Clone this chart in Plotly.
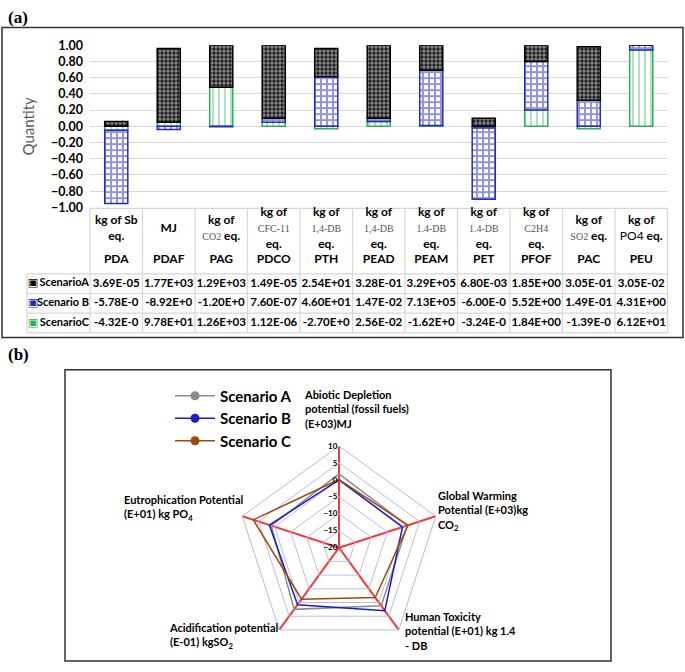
import plotly.graph_objects as go

# categories (impact codes) and units for the table header
codes = ["PDA", "PDAF", "PAG", "PDCO", "PTH", "PEAD", "PEAM", "PET", "PFOF", "PAC", "PEU"]
SMALL = "<span style='font-family:Liberation Serif;font-weight:normal;font-size:10px;color:#555'>%s</span>"
units = ["kg of Sb<br>eq.",
         "MJ",
         "kg of<br>" + SMALL % "CO2" + " eq.",
         "kg of<br>" + SMALL % "CFC-11" + "<br>eq.",
         "kg of<br>" + SMALL % "1,4-DB" + "<br>eq.",
         "kg of<br>" + SMALL % "1,4-DB" + "<br>eq.",
         "kg of<br>" + SMALL % "1.4-DB" + "<br>eq.",
         "kg of<br>" + SMALL % "1.4-DB" + "<br>eq.",
         "kg of<br>" + SMALL % "C2H4" + "<br>eq.",
         "kg of<br>" + SMALL % "SO2" + " eq.",
         "kg of<br><span style='font-weight:normal'>PO4</span> eq."]

# normalised shares shown as stacked bars
share_a = [0.06, 0.91, 0.52, 0.90, 0.35, 0.90, 0.31, 0.10, 0.20, 0.66, 0.0]
share_b = [-0.90, -0.04, -0.005, 0.05, 0.61, 0.04, 0.68, -0.88, 0.60, 0.32, 0.06]
share_c = [-0.05, 0.05, 0.48, 0.05, -0.03, 0.06, 0.01, -0.02, 0.20, -0.03, 0.94]

# table values
scenarios = ["ScenarioA", "Scenario B", "ScenarioC"]
tab_a = ["3.69E-05", "1.77E+03", "1.29E+03", "1.49E-05", "2.54E+01", "3.28E-01", "3.29E+05", "6.80E-03", "1.85E+00", "3.05E-01", "3.05E-02"]
tab_b = ["-5.78E-0", "-8.92E+0", "-1.20E+0", "7.60E-07", "4.60E+01", "1.47E-02", "7.13E+05", "-6.00E-0", "5.52E+00", "1.49E-01", "4.31E+00"]
tab_c = ["-4.32E-0", "9.78E+01", "1.26E+03", "1.12E-06", "-2.70E+0", "2.56E-02", "-1.62E+0", "-3.24E-0", "1.84E+00", "-1.39E-0", "6.12E+01"]

# radar data
radar_axes = ["Abiotic Depletion", "Global Warming", "Human Toxicity", "Acidification", "Eutrophication"]
radar_a = [1.8, 1.2, 1.2, 2.5, 1.0]
radar_b = [0.0, -0.3, 3.0, 0.8, 1.6]
radar_c = [0.1, 1.4, -1.8, -1.2, 6.6]
radar_ticks = [-20, -15, -10, -5, 0, 5, 10]

W, H = 685, 672
def fx(p):
    return p / W
def fy(p):
    return 1 - p / H

FONT = "Lato"
GREEN, BLUE = "#2bb05a", "#2a2ab8"
GRIDC = "#d6d6d6"
fig = go.Figure()

# stacked bars (C at the bottom, then B, then A)
bar_w = 0.44
fig.add_trace(go.Bar(x=codes, y=share_c, width=bar_w, showlegend=False, hoverinfo="skip",
                     marker=dict(color="white", line=dict(color=GREEN, width=1.5),
                                 pattern=dict(shape="|", fgcolor=GREEN, bgcolor="white", size=6, solidity=0.25))))
fig.add_trace(go.Bar(x=codes, y=share_b, width=bar_w, showlegend=False, hoverinfo="skip",
                     marker=dict(color="white", line=dict(color=BLUE, width=1.5),
                                 pattern=dict(shape="+", fgcolor=BLUE, bgcolor="white", size=6, solidity=0.55))))
fig.add_trace(go.Bar(x=codes, y=share_a, width=bar_w, showlegend=False, hoverinfo="skip",
                     marker=dict(color="black", line=dict(color="black", width=1.5),
                                 pattern=dict(shape=".", fgcolor="white", bgcolor="#111", size=4, solidity=0.6))))

# ---- table drawn in its own pixel-like axes (x2 / y2) ----
col_w = [63] + [52.5] * 11
row_h = [67, 20, 20, 20]
xb = [0]
for w in col_w:
    xb.append(xb[-1] + w)
yb = [0]
for h in row_h:
    yb.append(yb[-1] + h)
xc = [(xb[i] + xb[i + 1]) / 2 for i in range(len(col_w))]
yc = [(yb[i] + yb[i + 1]) / 2 for i in range(len(row_h))]

# borders
lx, ly = [], []
for i, x in enumerate(xb):
    lx += [x, x, None]
    ly += [yb[1] if i == 0 else yb[0], yb[-1], None]
for j, y in enumerate(yb):
    lx += [xb[1] if j == 0 else xb[0], xb[-1], None]
    ly += [y, y, None]
fig.add_trace(go.Scatter(x=lx, y=ly, mode="lines", line=dict(color=GRIDC, width=1.2),
                         xaxis="x2", yaxis="y2", showlegend=False, hoverinfo="skip"))

# header: unit lines and impact codes
fig.add_trace(go.Scatter(x=xc[1:], y=[yb[0] + 21] * 11, mode="text",
                         text=["<b>" + u + "</b>" for u in units],
                         textfont=dict(family=FONT, size=12, color="black"),
                         xaxis="x2", yaxis="y2", showlegend=False, hoverinfo="skip"))
fig.add_trace(go.Scatter(x=xc[1:], y=[yb[0] + 53] * 11, mode="text",
                         text=["<b>" + c + "</b>" for c in codes],
                         textfont=dict(family=FONT, size=12, color="black"),
                         xaxis="x2", yaxis="y2", showlegend=False, hoverinfo="skip"))

# data rows
for r, vals in enumerate([tab_a, tab_b, tab_c]):
    fig.add_trace(go.Scatter(x=xc[1:], y=[yc[r + 1]] * 11, mode="text",
                             text=["<b>" + v + "</b>" for v in vals],
                             textfont=dict(family=FONT, size=11.5, color="black"),
                             xaxis="x2", yaxis="y2", showlegend=False, hoverinfo="skip"))
# row labels with legend icons
fig.add_trace(go.Scatter(x=[xb[1] - 1] * 3, y=yc[1:], mode="text", textposition="middle left",
                         text=["<b>" + s + "</b>" for s in scenarios],
                         textfont=dict(family=FONT, size=11, color="black"),
                         xaxis="x2", yaxis="y2", showlegend=False, hoverinfo="skip"))
fig.add_trace(go.Scatter(x=[6] * 3, y=yc[1:], mode="text", text=["▣"] * 3,
                         textfont=dict(family="DejaVu Sans", size=11, color=["black", BLUE, GREEN]),
                         xaxis="x2", yaxis="y2", showlegend=False, hoverinfo="skip"))

# radar traces
for name, vals, col in [("Scenario A", radar_a, "#8c8c8c"),
                        ("Scenario B", radar_b, "#1c1cc8"),
                        ("Scenario C", radar_c, "#9c4a0c")]:
    fig.add_trace(go.Scatterpolar(r=vals + vals[:1], theta=radar_axes + radar_axes[:1],
                                  mode="lines+markers", name=name,
                                  line=dict(color=col, width=1.5),
                                  marker=dict(color=col, size=9)))

tab_left, tab_top = 27, 205
fig.update_layout(
    width=W, height=H, margin=dict(l=0, r=0, t=0, b=0),
    paper_bgcolor="white", plot_bgcolor="rgba(0,0,0,0)",
    barmode="relative", bargap=0.56,
    font=dict(family=FONT, color="black"),
    xaxis=dict(domain=[fx(tab_left + xb[1]), fx(tab_left + xb[-1])], range=[-0.5, 10.5],
               showticklabels=False, showgrid=False, zeroline=False, ticks="", fixedrange=True),
    yaxis=dict(domain=[fy(204), fy(38)], range=[-1, 1], dtick=0.2, tickformat=".2f",
               showgrid=True, gridcolor="#d9d9d9", gridwidth=1.2, zeroline=False, fixedrange=True,
               ticklabelstandoff=6,
               tickfont=dict(family=FONT, size=12.5, color="black", weight="bold"),
               title=dict(text="Quantity", font=dict(family=FONT, size=15, color="#595959"), standoff=12)),
    xaxis2=dict(domain=[fx(tab_left - 2), fx(tab_left + xb[-1] + 2)], range=[-2, xb[-1] + 2],
                visible=False, fixedrange=True),
    yaxis2=dict(domain=[fy(tab_top + yb[-1] + 2), fy(tab_top - 2)], range=[yb[-1] + 2, -2],
                visible=False, fixedrange=True),
    polar=dict(
        domain=dict(x=[fx(235), fx(443)], y=[fy(656), fy(448)]),
        bgcolor="white", gridshape="linear",
        angularaxis=dict(rotation=90, direction="clockwise", showticklabels=False, ticks="",
                         gridcolor="#f03c3c", gridwidth=1.5, linecolor="#b8b8e0", linewidth=1),
        radialaxis=dict(range=[-20, 10], tickvals=radar_ticks, angle=90, tickangle=90,
                        side="counterclockwise", showline=False, ticks="",
                        gridcolor="#bcbce4", gridwidth=1,
                        tickfont=dict(family=FONT, size=8, color="black", weight="bold"))),
    legend=dict(x=fx(170), y=fy(380), xanchor="left", yanchor="top", bgcolor="rgba(0,0,0,0)",
                font=dict(family=FONT, size=15, color="black", weight="bold"),
                tracegroupgap=2, itemwidth=40),
)

# panel frames
fig.add_shape(type="rect", xref="paper", yref="paper", x0=fx(2), x1=fx(683), y0=fy(337), y1=fy(20),
              line=dict(color="#333", width=1.5))
fig.add_shape(type="rect", xref="paper", yref="paper", x0=fx(65), x1=fx(611), y0=fy(668), y1=fy(370),
              line=dict(color="#333", width=1.5))

# panel letters
for txt, py in [("(a)", 10), ("(b)", 354)]:
    fig.add_annotation(x=fx(6), y=fy(py), xref="paper", yref="paper", text="<b>" + txt + "</b>",
                       showarrow=False, xanchor="left", yanchor="middle",
                       font=dict(family="Liberation Serif", size=17, color="black"))

# radar axis labels
radar_labels = [
    ("Abiotic Depletion<br>potential (fossil fuels)<br>(E+03)MJ", 302, 387),
    ("Global Warming<br>Potential (E+03)kg<br>CO<sub>2</sub>", 436, 490),
    ("Human Toxicity<br>potential (E+01) kg 1.4<br>- DB", 403, 614),
    ("Acidification potential<br>(E-01) kgSO<sub>2</sub>", 167, 625),
    ("Eutrophication Potential<br>(E+01) kg PO<sub>4</sub>", 122, 494),
]
for txt, px, py in radar_labels:
    fig.add_annotation(x=fx(px), y=fy(py), xref="paper", yref="paper", text="<b>" + txt + "</b>",
                       showarrow=False, xanchor="left", yanchor="top", align="left",
                       font=dict(family=FONT, size=11, color="black"))

fig.write_html("out.html", config={"displayModeBar": False},
               post_script="document.body.style.margin='0px';")
